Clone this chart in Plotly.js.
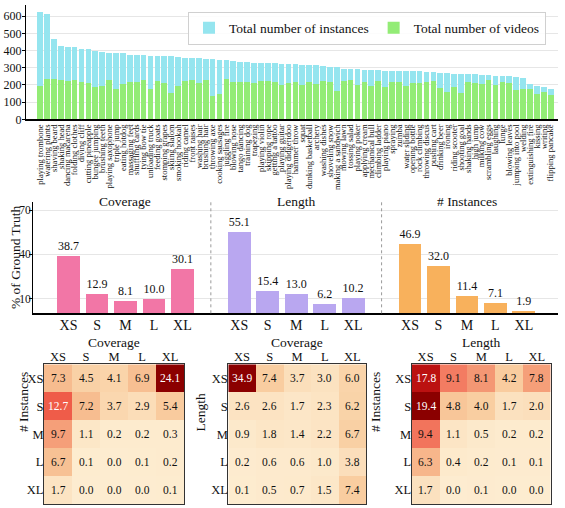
<!DOCTYPE html>
<html><head><meta charset="utf-8">
<script src="https://cdn.plot.ly/plotly-3.0.1.min.js"></script>
<style>html,body{margin:0;padding:0;background:#fff;}#chart{width:565px;height:508px;}</style>
</head><body><div id="chart"></div>
<script>
const actions = ["playing trombone","watering plants","shaving beard","shaking head","dancing macarena","folding clothes","diving cliff","cutting pineapple","bungee jumping","brushing teeth","playing saxophone","triple jump","eating hotdog","massaging feet","shuffling cards","tying bow tie","unloading truck","feeding goats","stomping grapes","skiing slalom","smoking hookah","riding camel","front raises","washing hair","brushing hair","throwing axe","cooking sausages","juggling fire","blowing nose","tango dancing","training dog","trapezing","playing violin","skipping rope","getting a tattoo","playing guitar","playing didgeridoo","hammer throw","squat","dunking basketball","archery","washing dishes","shoveling snow","making a sandwich","mowing lawn","tossing salad","playing poker","applying cream","mechanical bull","climbing ladder","playing piano","spraying","zumba","water sliding","opening bottle","rock climbing","throwing discus","pushing cart","drinking beer","ironing","riding scooter","shooting goal","shaking hands","high jump","milking cow","scrambling eggs","laughing","lunge","blowing leaves","jumping into pool","welding","extinguishing fire","kissing","writing","flipping pancake"];
const totalInstances = [627,615,470,425,423,423,410,408,400,390,388,388,388,377,377,375,369,369,367,367,361,357,357,357,353,353,346,344,342,334,334,330,330,328,328,324,324,324,317,317,315,311,305,303,295,295,293,287,287,287,283,283,283,282,282,280,278,276,270,268,266,264,262,262,258,256,254,252,250,247,243,208,194,188,177];
const totalVideos = [196,235,233,229,221,229,219,212,186,196,229,177,208,219,216,227,175,223,210,155,196,221,231,212,229,138,150,235,219,217,219,210,223,221,217,200,210,217,200,217,208,223,216,163,223,229,198,216,194,221,186,216,216,196,210,212,216,221,181,161,186,155,217,212,208,231,198,217,212,173,177,179,148,159,140];

const sizes = ["XS","S","M","L","XL"];
const groupNames = ["Coverage","Length","# Instances"];
const coveragePct = [38.7,12.9,8.1,10.0,30.1];
const lengthPct = [55.1,15.4,13.0,6.2,10.2];
const instancesPct = [46.9,32.0,11.4,7.1,1.9];

const instVsCoverage = [[7.3,4.5,4.1,6.9,24.1],[12.7,7.2,3.7,2.9,5.4],[9.7,1.1,0.2,0.2,0.3],[6.7,0.1,0.0,0.1,0.2],[1.7,0.0,0.0,0.0,0.1]];
const lengthVsCoverage = [[34.9,7.4,3.7,3.0,6.0],[2.6,2.6,1.7,2.3,6.2],[0.9,1.8,1.4,2.2,6.7],[0.2,0.6,0.6,1.0,3.8],[0.1,0.5,0.7,1.5,7.4]];
const instVsLength = [[17.8,9.1,8.1,4.2,7.8],[19.4,4.8,4.0,1.7,2.0],[9.4,1.1,0.5,0.2,0.2],[6.3,0.4,0.2,0.1,0.1],[1.7,0.0,0.1,0.0,0.0]];

const FONT = "Liberation Serif";
const W = 565, H = 508;
const px = v => v / W, py = v => 1 - v / H;

const traces = [];
traces.push({type:'bar', x:actions, y:totalInstances, name:'Total number of instances', marker:{color:'#95e5ef'}, width:0.83, xaxis:'x', yaxis:'y'});
traces.push({type:'bar', x:actions, y:totalVideos, name:'Total number of videos', marker:{color:'#93ec76'}, width:0.83, xaxis:'x', yaxis:'y'});

const groupData = [coveragePct, lengthPct, instancesPct];
const groupColors = ['#f276a6','#b9a7f0','#f8b15c'];
const midTickVals = [], midTickText = [];
groupData.forEach((vals, g) => {
  const xs = sizes.map((s, i) => g * 6 + i);
  xs.forEach((v, i) => { midTickVals.push(v); midTickText.push(sizes[i]); });
  traces.push({type:'bar', x:xs, y:vals, marker:{color:groupColors[g]}, width:0.8, showlegend:false,
    text:vals.map(v => v.toFixed(1)), textposition:'outside', cliponaxis:false,
    textfont:{family:FONT, size:12, color:'#111'}, xaxis:'x2', yaxis:'y2', hoverinfo:'skip'});
});

const cs = [[0,'#fdecd0'],[0.1,'#fbe0bd'],[0.2,'#f9cfa2'],[0.3,'#f7bd90'],[0.4,'#f5a07a'],[0.47,'#f37c62'],[0.53,'#ef5a48'],[0.7,'#e23a30'],[0.9,'#c51515'],[1,'#8b0000']];
const heatmaps = [
  {z:instVsCoverage, xt:'Coverage', yt:'# Instances', ax:'x3', ay:'y3'},
  {z:lengthVsCoverage, xt:'Coverage', yt:'Length', ax:'x4', ay:'y4'},
  {z:instVsLength, xt:'Length', yt:'# Instances', ax:'x5', ay:'y5'}
];
const annotations = [];
heatmaps.forEach(hm => {
  const zmax = Math.max(...hm.z.flat());
  traces.push({type:'heatmap', z:hm.z, x:sizes, y:sizes, colorscale:cs, zmin:0, zmax:zmax, showscale:false, xaxis:hm.ax, yaxis:hm.ay, hoverinfo:'skip'});
  hm.z.forEach((row, i) => row.forEach((v, j) => {
    annotations.push({xref:hm.ax, yref:hm.ay, x:sizes[j], y:sizes[i], text:v.toFixed(1), showarrow:false,
      font:{family:FONT, size:11.5, color: v / zmax > 0.5 ? '#ffffff' : '#111111'}});
  }));
  annotations.push({xref:hm.ax + ' domain', yref:'paper', x:0.5, y:py(342), text:hm.xt, showarrow:false, yanchor:'middle', font:{family:FONT, size:13.5, color:'#111'}});
});
annotations.push({xref:'paper', yref:'paper', x:px(13.5), y:py(434), text:'# Instances', textangle:-90, showarrow:false, font:{family:FONT, size:13.5, color:'#111'}});
annotations.push({xref:'paper', yref:'paper', x:px(199.5), y:py(434), text:'Length', textangle:-90, showarrow:false, font:{family:FONT, size:13.5, color:'#111'}});
annotations.push({xref:'paper', yref:'paper', x:px(384.5), y:py(434), text:'# Instances', textangle:-90, showarrow:false, font:{family:FONT, size:13.5, color:'#111'}});
groupNames.forEach((n, g) => {
  annotations.push({xref:'x2', yref:'y2 domain', x:g * 6 + 2, y:1, yanchor:'middle', text:n, showarrow:false, font:{family:FONT, size:13.5, color:'#111'}});
});
annotations.push({xref:'paper', yref:'paper', x:px(6), y:py(257.5), text:'% of Ground Truth', textangle:-90, showarrow:false, font:{family:FONT, size:13.5, color:'#111'}});

const shapes = [5, 11].map(v => ({type:'line', xref:'x2', yref:'y2 domain', x0:v, x1:v, y0:0, y1:1, line:{color:'#999', width:1, dash:'dot'}}));

const hmX = (d) => ({domain:d, type:'category', side:'top', showgrid:false, zeroline:false, ticks:'', ticklabelstandoff:-3, tickfont:{family:FONT, size:12.5, color:'#111'}, showline:true, mirror:true, linecolor:'#333', linewidth:1});
const hmY = (anchorX) => ({domain:[py(504), py(364.3)], type:'category', autorange:'reversed', showgrid:false, zeroline:false, ticks:'', ticklabelstandoff:-3, tickfont:{family:FONT, size:12.5, color:'#111'}, showline:true, mirror:true, linecolor:'#333', linewidth:1, anchor:anchorX});

const layout = {
  width:W, height:H, margin:{l:0, r:0, t:0, b:0}, paper_bgcolor:'#fff', plot_bgcolor:'rgba(0,0,0,0)',
  font:{family:FONT, color:'#111'}, barmode:'overlay', bargap:0,
  showlegend:true,
  legend:{orientation:'h', x:px(188), y:py(11.5), xanchor:'left', yanchor:'top', bgcolor:'rgba(255,255,255,0.85)', bordercolor:'#d0d0d0', borderwidth:1, font:{family:FONT, size:13.5, color:'#111'}, itemwidth:30, traceorder:'normal'},
  xaxis:{domain:[px(26.3), px(558.3)], type:'category', range:[-2, 75.1], tickmode:'array', tickvals:actions, ticktext:actions, tickangle:-90, tickfont:{family:FONT, size:8.5, color:'#111'}, showgrid:false, zeroline:false, showline:true, linecolor:'#000', linewidth:1.8, ticks:'', anchor:'y'},
  yaxis:{domain:[py(119.3), py(5)], range:[0, 665], tickvals:[0,100,200,300,400,500,600], tickfont:{family:FONT, size:12, color:'#111'}, ticklabelstandoff:-2, showgrid:true, gridcolor:'#e6e6e6', gridwidth:1, zeroline:false, showline:true, linecolor:'#000', linewidth:1.5, ticks:'outside', ticklen:3, tickcolor:'#000', anchor:'x'},
  xaxis2:{domain:[px(33), px(558)], range:[-1.25, 17.2], tickmode:'array', tickvals:midTickVals, ticktext:midTickText, tickfont:{family:FONT, size:14, color:'#111'}, ticklabelstandoff:-2, showgrid:false, zeroline:false, showline:true, linecolor:'#000', linewidth:1.8, ticks:'', anchor:'y2'},
  yaxis2:{domain:[py(313.3), py(202)], range:[0, 75.5], tickvals:[10,40,70], tickfont:{family:FONT, size:11.5, color:'#111'}, ticklabelstandoff:-4, showgrid:true, gridcolor:'#e6e6e6', zeroline:false, showline:true, linecolor:'#000', linewidth:1.5, ticks:'outside', ticklen:2.5, tickcolor:'#000', anchor:'x2'},
  xaxis3:Object.assign(hmX([px(44), px(184)]), {anchor:'y3'}),
  yaxis3:hmY('x3'),
  xaxis4:Object.assign(hmX([px(228.3), px(366)]), {anchor:'y4'}),
  yaxis4:hmY('x4'),
  xaxis5:Object.assign(hmX([px(411.7), px(550.7)]), {anchor:'y5'}),
  yaxis5:hmY('x5'),
  annotations:annotations,
  shapes:shapes
};

Plotly.newPlot('chart', traces, layout, {displayModeBar:false, staticPlot:true});
</script>
</body></html>
